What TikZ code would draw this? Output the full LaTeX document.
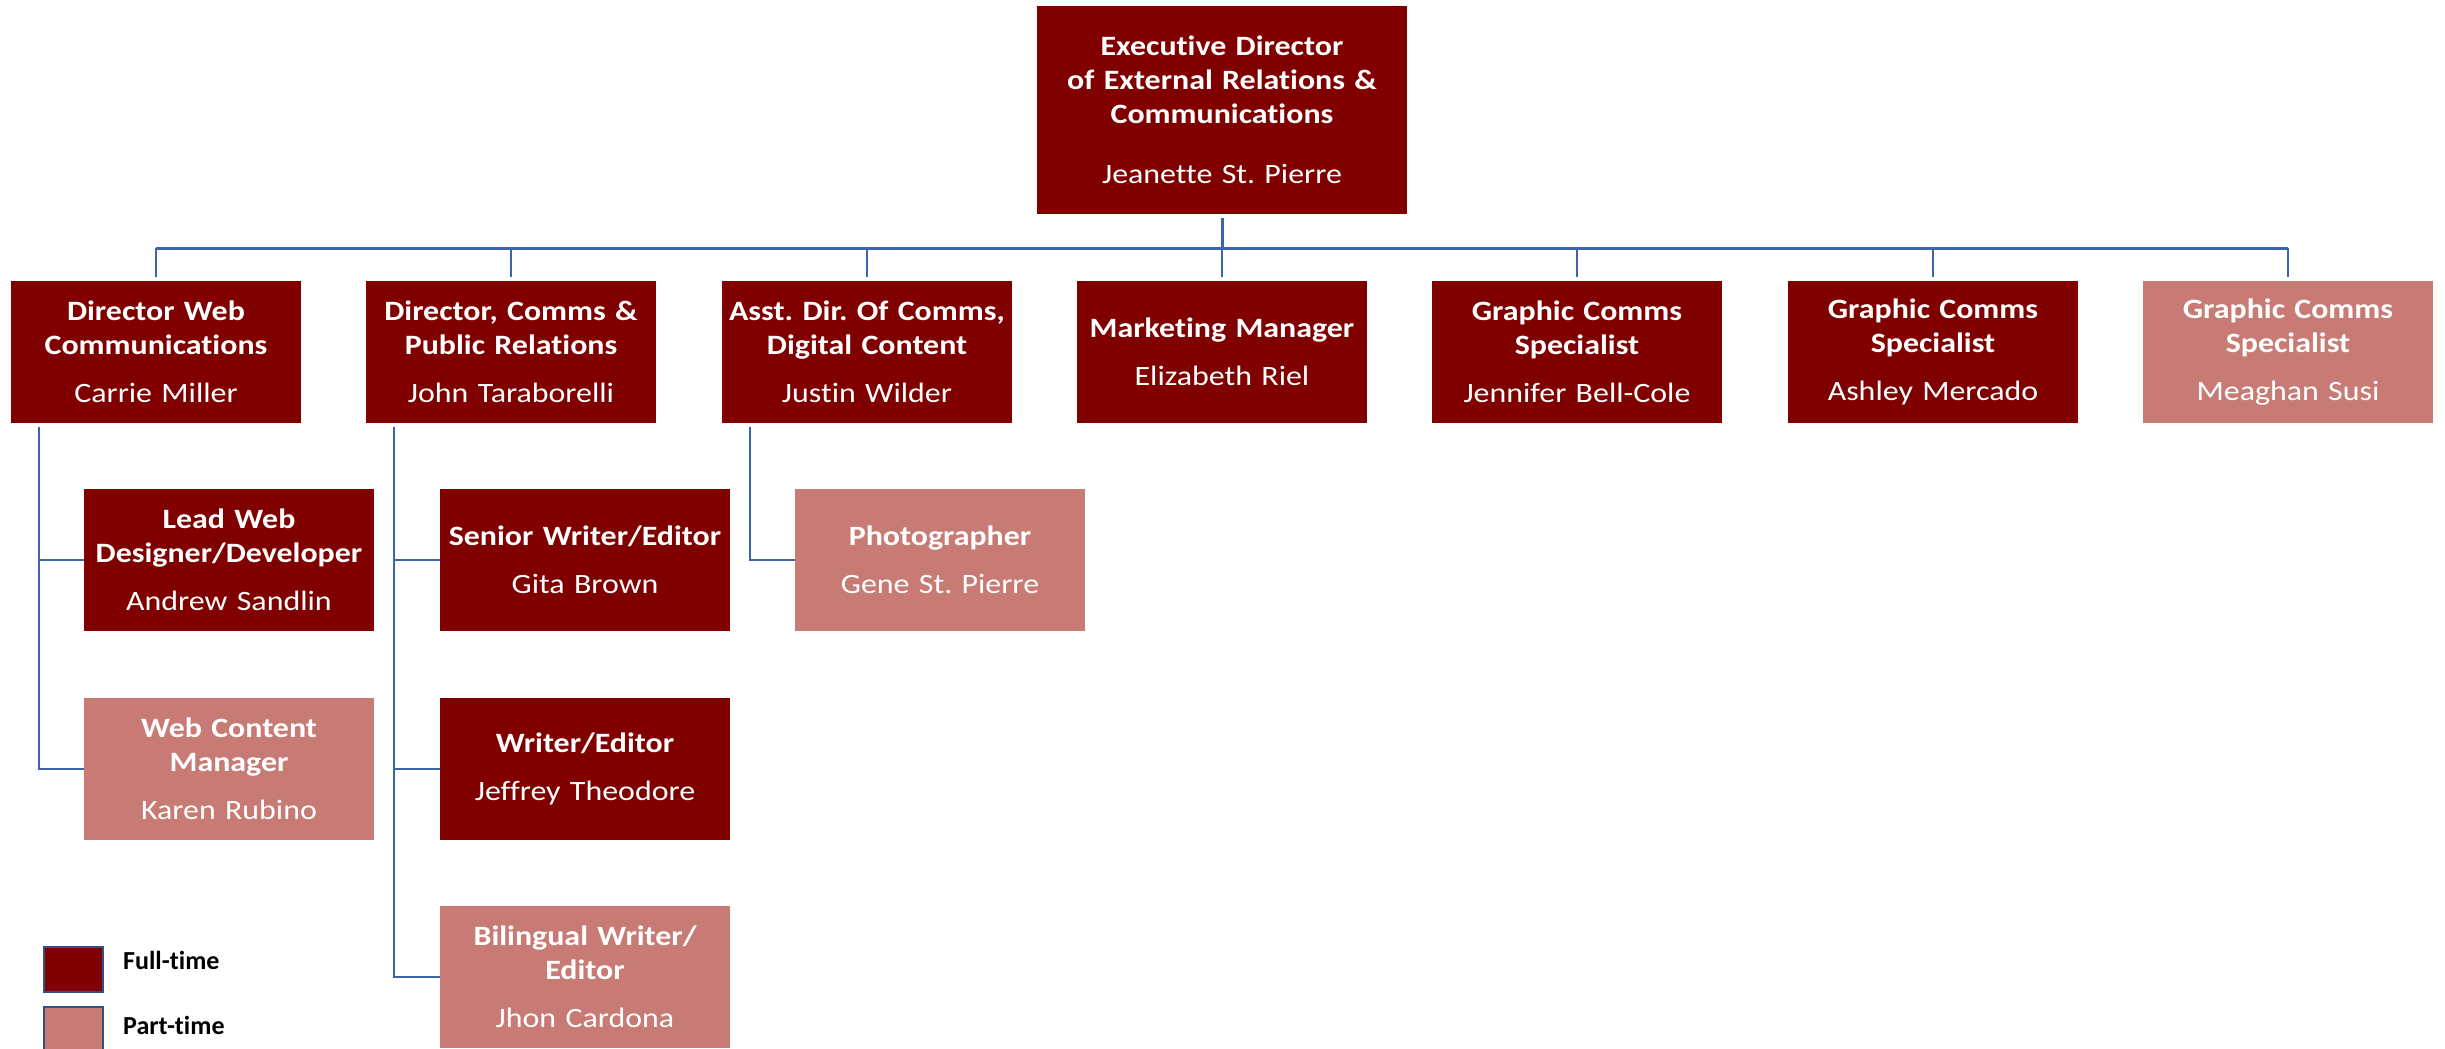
\documentclass[tikz,border=0pt]{standalone}
\usepackage{fontspec}
\setmainfont[Ligatures=NoCommon]{Carlito}
\newfontfamily\boxfont[FakeStretch=1.14,Ligatures=NoCommon]{Carlito}
\usetikzlibrary{positioning}
\definecolor{fullred}{RGB}{128,0,0}
\definecolor{partred}{RGB}{199,123,116}
\definecolor{linkblue}{RGB}{59,100,173}
\newcommand\job[2]{{\bfseries #1}\\[14pt]#2}
\frenchspacing

\begin{document}
\begin{tikzpicture}[x=1pt,y=-1pt,
  box/.style={minimum width=290pt,minimum height=142pt,text width=288pt,inner sep=0pt,align=center,text=white,font=\boxfont\fontsize{28}{34}\selectfont},
  full/.style={box,fill=fullred},
  part/.style={box,fill=partred},
  link/.style={draw=linkblue,line width=2.2pt},
  bus/.style={draw=linkblue,line width=3pt},
  key/.style={draw=linkblue!80!black,line width=2pt,minimum width=59pt,minimum height=45pt,inner sep=0pt}]
\useasboundingbox (0,0) rectangle (2445,1049);

\node[full,minimum width=370pt,minimum height=208pt,text width=360pt] (exec) at (1222,110)
  {{\bfseries Executive Director\\of External Relations \&\\Communications}\\[26pt]Jeanette St. Pierre};

\node[full] (dweb) at (156,352) {\job{Director Web\\Communications}{Carrie Miller}};
\node[full] (dcomms) at (511,352) {\job{Director, Comms \&\\Public Relations}{John Taraborelli}};
\node[full] (adir) at (867,352) {\job{Asst. Dir. Of Comms,\\Digital Content}{Justin Wilder}};
\node[full] (mktg) at (1222,352) {\job{Marketing Manager}{Elizabeth Riel}};
\node[full] (gcsa) at (1577,352) {\job{Graphic Comms\\Specialist}{Jennifer Bell-Cole}};
\node[full] (gcsb) at (1933,352) {\job{Graphic Comms\\Specialist}{Ashley Mercado}};
\node[part] (gcsc) at (2288,352) {\job{Graphic Comms\\Specialist}{Meaghan Susi}};

\node[full] (lead) at (229,560) {\job{Lead Web\\Designer/Developer}{Andrew Sandlin}};
\node[part] (webc) at (229,769) {\job{Web Content\\Manager}{Karen Rubino}};
\node[full] (senior) at (585,560) {\job{Senior Writer/Editor}{Gita Brown}};
\node[full] (writer) at (585,769) {\job{Writer/Editor}{Jeffrey Theodore}};
\node[part] (biling) at (585,977) {\job{Bilingual Writer/\\Editor}{Jhon Cardona}};
\node[part] (photo) at (940,560) {\job{Photographer}{Gene St. Pierre}};

\coordinate (bus) at (0,248);
\draw[bus,shorten <=4pt] (exec.south) -- (exec.south |- bus);
\draw[bus] (dweb.north |- bus) -- (gcsc.north |- bus);
\foreach \n in {dweb,dcomms,adir,mktg,gcsa,gcsb,gcsc}
  \draw[link,shorten >=4pt] (\n.north |- bus) -- (\n.north);
\foreach \p/\c in {dweb/lead,dweb/webc,dcomms/senior,dcomms/writer,dcomms/biling,adir/photo}
  \draw[link,shorten <=4pt] ([xshift=28pt]\p.south west) |- (\c.west);

\node[key,fill=fullred] (kfull) at (73.5,969.5) {};
\node[key,fill=partred] (kpart) at (73.5,1029.5) {};
\node[anchor=west,inner sep=0pt,font=\fontsize{26}{31}\selectfont\bfseries] (lfull) at (123,960) {Full-time};
\node[anchor=west,inner sep=0pt,font=\fontsize{26}{31}\selectfont\bfseries] (lpart) at (123,1025) {Part-time};
\end{tikzpicture}
\end{document}
